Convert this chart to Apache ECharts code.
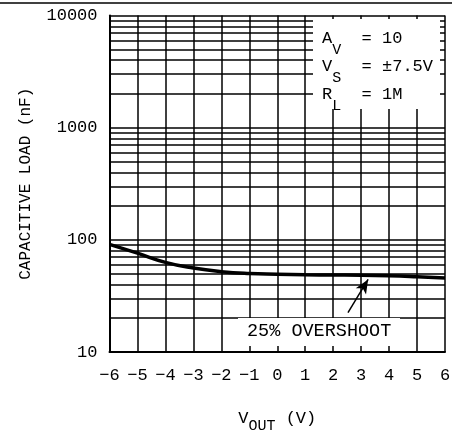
<!DOCTYPE html>
<html><head><meta charset="utf-8">
<script src="https://cdn.jsdelivr.net/npm/echarts@6/dist/echarts.min.js"></script>
<style>html,body{margin:0;padding:0;background:#fff}#c{width:452px;height:434px}</style>
</head><body><div id="c"></div>
<script>
// Data
var vout = [-6, -5, -4, -3, -2, -1, 0, 1, 2, 3, 4, 5, 6];
var capLoad = [91, 76, 63, 56, 52, 50, 49.3, 48.8, 48.6, 48.4, 47.8, 46.8, 45.6];
var xTicks = [-6, 6, 1];
var yTicks = [10, 100, 1000, 10000];
var minorGrid = [20, 30, 40, 50, 60, 70, 80, 90, 200, 300, 400, 500, 600, 700, 800, 900, 2000, 3000, 4000, 5000, 6000, 7000, 8000, 9000];
var arrowFrom = [2.53, 22.4];
var arrowTo = [3.25, 44.4];

var FONT = '"Liberation Mono", "DejaVu Sans Mono", monospace';
var chart = echarts.init(document.getElementById('c'), null, {renderer: 'canvas'});
var lineData = vout.map(function (v, i) { return [v, capLoad[i]]; });

chart.setOption({
  animation: false,
  backgroundColor: '#fff',
  grid: {left: 109.5, right: 7, top: 15.5, bottom: 82, containLabel: false, outerBoundsMode: 'none'},
  xAxis: {
    type: 'value', min: xTicks[0], max: xTicks[1], interval: xTicks[2],
    axisLine: {show: true, onZero: false, lineStyle: {color: '#000', width: 2}},
    axisTick: {show: false},
    splitLine: {show: true, lineStyle: {color: '#000', width: 1.5}},
    axisLabel: {color: '#000', fontSize: 17, fontFamily: FONT, margin: 15,
      formatter: function (v) { return String(v).replace('-', '\u2212'); }},
    name: '{v|V}{s|OUT}{v| (V)}', nameLocation: 'middle', nameGap: 58,
    nameTextStyle: {rich: {
      v: {fontSize: 17, fontFamily: FONT, color: '#000', verticalAlign: 'top', lineHeight: 24},
      s: {fontSize: 15, fontFamily: FONT, color: '#000', verticalAlign: 'bottom', lineHeight: 24}
    }}
  },
  yAxis: {
    type: 'log', logBase: 10, min: yTicks[0], max: yTicks[yTicks.length - 1],
    axisLine: {show: true, onZero: false, lineStyle: {color: '#000', width: 2}},
    axisTick: {show: false},
    splitLine: {show: true, lineStyle: {color: '#000', width: 1.5}},
    axisLabel: {color: '#000', fontSize: 17, fontFamily: FONT, margin: 12,
      formatter: function (v) { return String(v); }},
    name: 'CAPACITIVE LOAD (nF)', nameLocation: 'middle', nameGap: 76,
    nameTextStyle: {color: '#000', fontSize: 16, fontFamily: FONT}
  },
  series: [
    {
      type: 'line', data: [], z: 1, silent: true,
      markLine: {
        silent: true, symbol: ['none', 'none'], animation: false,
        label: {show: false},
        lineStyle: {color: '#000', width: 1.5, type: 'solid'},
        data: minorGrid.map(function (v) { return {yAxis: v}; })
      }
    },
    {
      type: 'line', data: lineData, smooth: true, symbol: 'none', z: 5,
      lineStyle: {color: '#000', width: 3.5}
    },
    {
      type: 'line', data: [], z: 20, silent: true,
      markLine: {
        silent: true, symbol: ['none', 'arrow'], symbolSize: [9, 14], animation: false,
        label: {show: false},
        lineStyle: {color: '#000', width: 1.5, type: 'solid'},
        data: [[{coord: arrowFrom}, {coord: arrowTo}]]
      }
    }
  ],
  graphic: [
    {type: 'line', z: 100, shape: {x1: 0, y1: 3, x2: 452, y2: 3}, style: {stroke: '#000', lineWidth: 1.5}},
    {type: 'rect', z: 50, shape: {x: 313, y: 19, width: 127, height: 90}, style: {fill: '#fff'}},
    {type: 'text', z: 60, left: 322, top: 30, style: {
      rich: {
        m: {fontSize: 17, fontFamily: FONT, fill: '#000', verticalAlign: 'top', lineHeight: 28},
        s: {fontSize: 15, fontFamily: FONT, fill: '#000', verticalAlign: 'bottom', lineHeight: 26}
      },
      text: '{m|A}{s|V}{m|  = 10}\n{m|V}{s|S}{m|  = \u00b17.5V}\n{m|R}{s|L}{m|  = 1M}'
    }},
    {type: 'rect', z: 50, shape: {x: 238, y: 318, width: 162, height: 28}, style: {fill: '#fff'}},
    {type: 'text', z: 60, left: 247, top: 322, style: {
      text: '25% OVERSHOOT', fontSize: 18.5, fontFamily: FONT, fill: '#000'
    }}
  ]
});
</script></body></html>
